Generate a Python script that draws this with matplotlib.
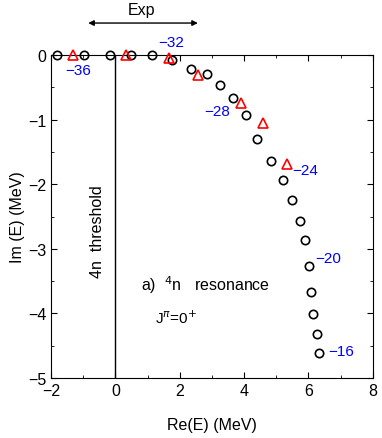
import numpy as np
import matplotlib
matplotlib.use("Agg")
import matplotlib.pyplot as plt

plt.rcParams['font.family'] = ['Liberation Sans', 'DejaVu Sans']

# puntos circulares (resonancia 4n)
circ_re = [-1.80, -0.97, -0.17, 0.48, 1.15, 1.76, 2.35, 2.86, 3.26, 3.64, 4.05,
           4.40, 4.83, 5.20, 5.48, 5.74, 5.89, 6.03, 6.08, 6.14, 6.25, 6.32]
circ_im = [0.0, 0.0, 0.0, 0.0, 0.0, -0.08, -0.21, -0.30, -0.46, -0.67, -0.93,
           -1.30, -1.64, -1.94, -2.25, -2.57, -2.86, -3.26, -3.67, -4.01, -4.32, -4.61]

# triangulos
tri_re = [-1.31, 0.33, 1.66, 2.57, 3.89, 4.58, 5.32]
tri_im = [0.0, 0.0, -0.04, -0.31, -0.74, -1.06, -1.68]

# etiquetas azules
lab_txt = ["\u221236", "\u221232", "\u221228", "\u221224", "\u221220", "\u221216"]
lab_x = [-1.16, 1.72, 3.16, 5.89, 6.6, 7.03]
lab_y = [-0.23, 0.2, -0.87, -1.78, -3.15, -4.58]

fig = plt.figure(figsize=(3.82, 4.39), dpi=100)
ax = fig.add_axes([0.1335, 0.1367, 0.8425, 0.7357])

ax.plot(circ_re, circ_im, 'o', mfc='none', mec='black', ms=6, mew=1.2, clip_on=False, zorder=3)
ax.plot(tri_re, tri_im, '^', mfc='none', mec='red', ms=6.5, mew=1.2, clip_on=False, zorder=3)

for t, x, y in zip(lab_txt, lab_x, lab_y):
    ax.text(x, y, t, color='blue', fontsize=11, ha='center', va='center')

# linea del umbral
ax.plot([0, 0], [0, -5], color='black', lw=1)
ax.text(-0.54, -2.72, "4n  threshold", rotation=90, ha='center', va='center', fontsize=11.5)

ax.text(0.8, -3.55, r"a)  $^{4}$n   resonance", fontsize=11.5, va='center')
ax.text(1.23, -4.06, r"J$^{\pi}$=0$^{+}$", fontsize=11, va='center')

# flecha Exp
ax.annotate("", xy=(-0.93, 0.495), xytext=(2.65, 0.495),
            arrowprops=dict(arrowstyle='<|-|>', color='black', lw=1, mutation_scale=8),
            annotation_clip=False)
ax.text(0.8, 0.7, "Exp", ha='center', va='center', fontsize=11.5)

ax.set_xlim(-2, 8)
ax.set_ylim(-5, 0)
ax.set_xticks([-2, 0, 2, 4, 6, 8])
ax.set_xticklabels(["\u22122", "0", "2", "4", "6", "8"])
ax.set_xticks([-1, 1, 3, 5, 7], minor=True)
ax.set_yticks([-5, -4, -3, -2, -1, 0])
ax.set_yticklabels(["\u22125", "\u22124", "\u22123", "\u22122", "\u22121", "0"])
ax.set_yticks(np.arange(-4.5, 0, 1.0), minor=True)
ax.tick_params(which='both', direction='in', top=True, right=True, labelsize=11.5)
ax.tick_params(which='major', length=4)
ax.tick_params(which='minor', length=2.5)

ax.set_xlabel("Re(E) (MeV)", fontsize=11.5, labelpad=14)
ax.set_ylabel("Im (E) (MeV)", fontsize=11.5, labelpad=2)

fig.savefig("out.png", dpi=100)
